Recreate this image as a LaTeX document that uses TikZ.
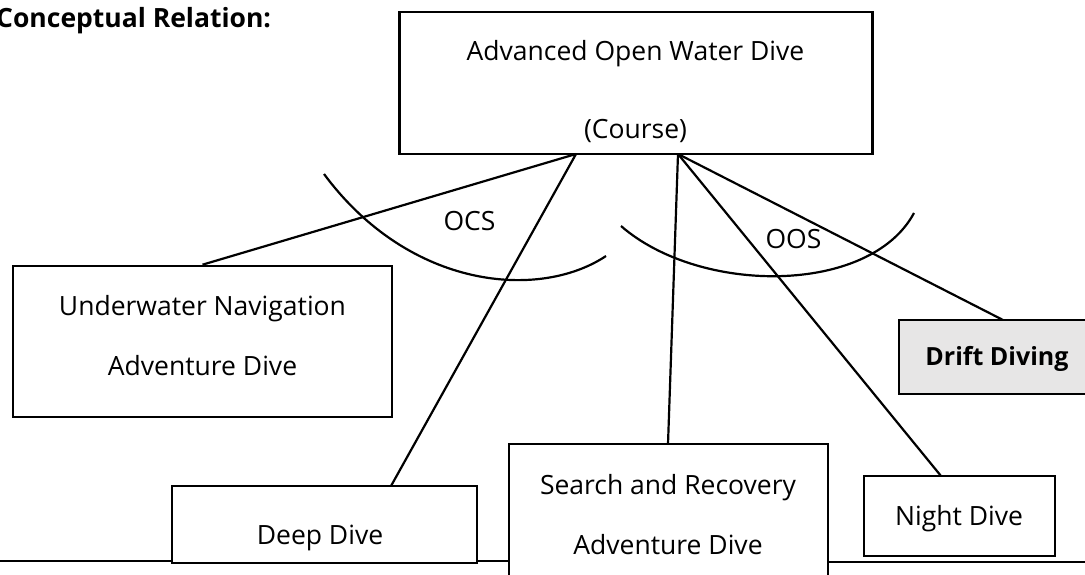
\documentclass[tikz,border=0pt]{standalone}
\usepackage{fontspec}
\setmainfont{Open Sans}
\usetikzlibrary{calc}
\definecolor{driftgray}{HTML}{E7E6E6}
\tikzset{
  box/.style={draw=black, line width=2.6pt, inner sep=0pt, fill=white},
  txt/.style={inner sep=0pt, anchor=base, font=\fontsize{26.5}{30}\selectfont},
  conn/.style={line width=2.2pt},
  arcline/.style={line width=2.2pt},
}
\begin{document}
\begin{tikzpicture}[x=1pt,y=-1pt]
\useasboundingbox (0,0) rectangle (1085,575);
% page rule
\coordinate (hl0) at (0,561);
\coordinate (hl1) at (509,561);
\coordinate (hr0) at (828,562);
\coordinate (hr1) at (1085,562);
\draw[conn] (hl0) -- (hl1);
\draw[conn] (hr0) -- (hr1);
% boxes
\node[box, minimum width=473pt, minimum height=142pt] (main) at (636,83) {};
\node[box, minimum width=379pt, minimum height=151pt] (uw) at (202.5,341.5) {};
\node[box, fill=driftgray, minimum width=200pt, minimum height=74pt] (drift) at (999,357) {};
\node[box, minimum width=305pt, minimum height=77pt] (deep) at (324.5,524.5) {};
\node[box, minimum width=319pt, minimum height=160pt] (search) at (668.5,524) {};
\node[box, minimum width=191pt, minimum height=80pt] (night) at (959.5,516) {};
% texts
\node[txt] (t1) at (635.5,61) {Advanced Open Water Dive};
\node[txt] (t2) at (635.5,139) {(Course)};
\node[txt] (t3) at (202.5,315) {Underwater Navigation};
\node[txt] (t4) at (202.5,375) {Adventure Dive};
\node[txt, font=\fontsize{25}{30}\selectfont\bfseries] (t5) at (997,365) {Drift Diving};
\node[txt] (t6) at (320,544) {Deep Dive};
\node[txt] (t7) at (668,494) {Search and Recovery};
\node[txt] (t8) at (668,554) {Adventure Dive};
\node[txt] (t9) at (959,525) {Night Dive};
\node[inner sep=0pt, anchor=base west, font=\fontsize{26.5}{30}\selectfont\bfseries] (title) at (-4,28) {Conceptual Relation:};
\node[txt] (ocs) at (469.5,230) {OCS};
\node[txt] (oos) at (793.5,248) {OOS};
% connectors
\coordinate (pL) at (576,154);
\coordinate (pR) at (678,154);
\coordinate (deepTop) at (391,486);
\coordinate (searchTop) at (668,444);
\coordinate (nightTop) at (941,476);
\coordinate (driftTop) at (1003,320);
\draw[conn] (pL) -- (uw.north);
\draw[conn] (pL) -- (deepTop);
\draw[conn] (pR) -- (searchTop);
\draw[conn] (pR) -- (nightTop);
\draw[conn] (pR) -- (driftTop);
% arcs
\coordinate (a1s) at (324,174);
\coordinate (a1e) at (606,256);
\coordinate (a2s) at (621,226);
\coordinate (a2e) at (914,213);
\draw[arcline] (a1s) .. controls (410,290) and (540,300) .. (a1e);
\draw[arcline] (a2s) .. controls (700,295) and (870,295) .. (a2e);
\end{tikzpicture}
\end{document}
